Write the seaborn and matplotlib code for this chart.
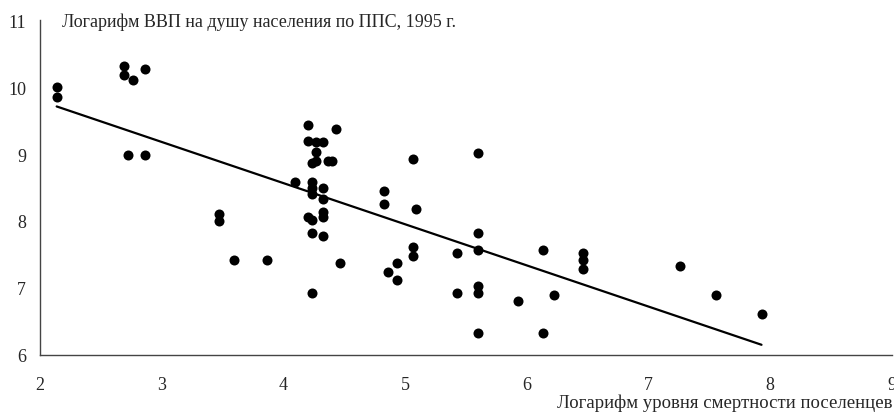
import matplotlib
matplotlib.use("Agg")
import matplotlib.pyplot as plt
import seaborn as sns
import pandas as pd

log_mortality = [
    2.137, 2.137, 2.693, 2.693, 2.762, 2.863, 2.726, 2.863,
    4.203, 4.203, 4.268, 4.328, 4.268, 4.268, 4.236, 4.364, 4.397, 4.432,
    5.068, 4.093, 4.233, 4.322, 4.827, 4.233, 4.233, 4.322, 4.827, 5.093,
    3.468, 3.468, 4.203, 4.236, 4.328, 4.328, 4.233, 4.322,
    3.597, 3.863, 4.465, 4.931, 4.859, 4.931, 5.068, 5.068, 4.233,
    5.601, 5.601, 5.428, 6.136, 6.459, 6.459, 6.459, 7.259,
    5.428, 5.601, 5.601, 5.925, 6.226, 7.560, 7.930, 5.601, 6.136, 5.601,
]
log_gdp = [
    10.01, 9.86, 10.31, 10.18, 10.10, 10.27, 8.98, 8.98,
    9.43, 9.20, 9.18, 9.18, 9.03, 8.90, 8.86, 8.90, 8.90, 9.38,
    8.93, 8.58, 8.58, 8.49, 8.45, 8.50, 8.41, 8.33, 8.26, 8.18,
    8.10, 8.00, 8.06, 8.01, 8.14, 8.06, 7.82, 7.78,
    7.41, 7.41, 7.37, 7.37, 7.24, 7.12, 7.61, 7.47, 6.93,
    7.82, 7.57, 7.52, 7.56, 7.52, 7.41, 7.28, 7.33,
    6.93, 7.02, 6.93, 6.80, 6.89, 6.89, 6.61, 6.32, 6.32, 9.02,
]
x_ticks = [2, 3, 4, 5, 6, 7, 8, 9]
y_ticks = [6, 7, 8, 9, 10, 11]
x_title = "Логарифм уровня смертности поселенцев"
y_title = "Логарифм ВВП на душу населения по ППС, 1995 г."

df = pd.DataFrame({"x": log_mortality, "y": log_gdp})

sns.set_style("white")
plt.rcParams["font.family"] = ["Liberation Serif", "DejaVu Serif"]

fig = plt.figure(figsize=(8.95, 4.14), dpi=100)
ax = fig.add_axes([40 / 895, 1 - 355.7 / 414, (891.7 - 40) / 895, (355.7 - 21.3) / 414])

sns.regplot(data=df, x="x", y="y", ax=ax, ci=None, truncate=True,
            scatter_kws=dict(s=52, color="black", linewidths=0, alpha=1),
            line_kws=dict(color="black", lw=1.6))

ax.set_xlim(2, 9)
ax.set_ylim(6, 11)
ax.set_xticks(x_ticks)
ax.set_yticks(y_ticks)
ax.set_xlabel("")
ax.set_ylabel("")
for s in ["top", "right"]:
    ax.spines[s].set_visible(False)
for s in ["left", "bottom"]:
    ax.spines[s].set_color("#444444")
    ax.spines[s].set_linewidth(1.0)
ax.tick_params(axis="x", direction="out", length=5, width=1, color="black",
               labelsize=13, pad=10)
ax.tick_params(axis="y", direction="in", length=5, width=1, color="black",
               labelsize=13, pad=10)
ax.grid(False)

fig.text(62 / 895, 1 - 22 / 414, y_title, ha="left", va="center", fontsize=13)
fig.text(893 / 895, 1 - 403 / 414, x_title, ha="right", va="center", fontsize=13.5)

fig.savefig("out.png", dpi=100)
